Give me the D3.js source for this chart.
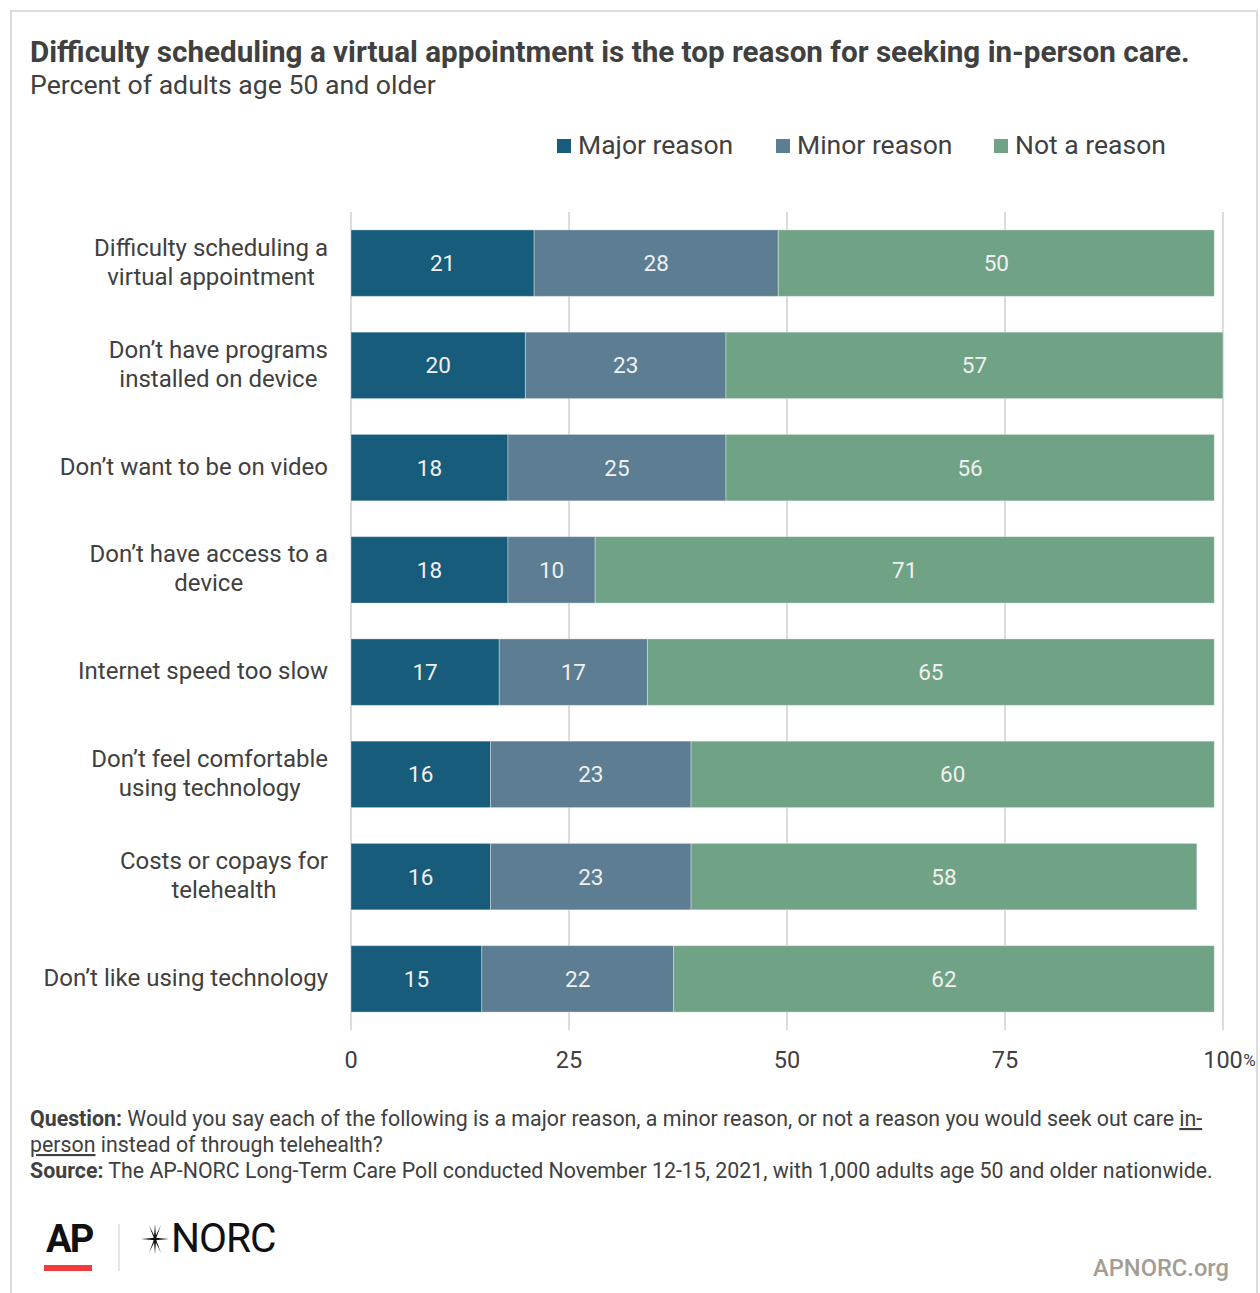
<!DOCTYPE html>
<html><head><meta charset="utf-8">
<script src="https://cdn.jsdelivr.net/npm/d3@7"></script>
<style>
html,body{margin:0;padding:0;background:#fff;}
text{font-family:Roboto,"Noto Sans",sans-serif;}
</style></head>
<body><svg id="c" width="1260" height="1293"></svg>
<script>
const categories = [
  ["Difficulty scheduling a","virtual appointment"],
  ["Don’t have programs","installed on device"],
  ["Don’t want to be on video"],
  ["Don’t have access to a","device"],
  ["Internet speed too slow"],
  ["Don’t feel comfortable","using technology"],
  ["Costs or copays for","telehealth"],
  ["Don’t like using technology"]
];
const seriesNames = ["Major reason","Minor reason","Not a reason"];
const major = [21,20,18,18,17,16,16,15];
const minor = [28,23,25,10,17,23,23,22];
const notReason = [50,57,56,71,65,60,58,62];
const tickValues = [0,25,50,75,100];
const tickLabels = ["0","25","50","75","100"];
const colors = ["#185c7c","#5c7d92","#70a285"];

const svg = d3.select("#c");
svg.append("rect").attr("x",11).attr("y",11).attr("width",1246).attr("height",1290)
  .attr("fill","#fff").attr("stroke","#dcdcdc").attr("stroke-width",2);

function fit(sel, w){ const n=sel.node(); const l=n.getComputedTextLength(); if(l>0){ const fs=parseFloat(sel.attr("font-size")); sel.attr("font-size", fs*w/l);} return sel;}

fit(svg.append("text").attr("x",30).attr("y",62).attr("font-size",27).attr("font-weight","bold")
  .attr("fill","#404040").text("Difficulty scheduling a virtual appointment is the top reason for seeking in-person care."),1160);
fit(svg.append("text").attr("x",30).attr("y",94).attr("font-size",24)
  .attr("fill","#404040").text("Percent of adults age 50 and older"),406);

// legend
const legX=[557,776,994];
seriesNames.forEach((s,i)=>{
  svg.append("rect").attr("x",legX[i]).attr("y",139).attr("width",14).attr("height",14).attr("fill",colors[i]);
  svg.append("text").attr("x",legX[i]+21).attr("y",154).attr("font-size",26.5).attr("fill","#404040").text(s);
});

const x = d3.scaleLinear().domain([0,100]).range([351,1223]);
const y = d3.scaleBand().domain(d3.range(categories.length)).range([212,1030]).paddingInner(0.35).paddingOuter(0.175);

// grid
svg.append("g").selectAll("line").data(tickValues).join("line")
  .attr("x1",d=>x(d)).attr("x2",d=>x(d)).attr("y1",212).attr("y2",1030)
  .attr("stroke","#dcdcdc").attr("stroke-width",2);

const rows = categories.map((c,i)=>({i, vals:[major[i],minor[i],notReason[i]]}));
const g = svg.append("g");
rows.forEach(r=>{
  let cum=0;
  r.vals.forEach((v,k)=>{
    const x0=x(cum), x1=x(cum+v);
    g.append("rect").attr("x",x0).attr("y",y(r.i)).attr("width",x1-x0).attr("height",y.bandwidth())
      .attr("fill",colors[k]).attr("stroke","rgba(255,255,255,0.35)").attr("stroke-width",1);
    g.append("text").attr("x",(x0+x1)/2).attr("y",y(r.i)+y.bandwidth()/2+8).attr("text-anchor","middle")
      .attr("font-size",22.5).attr("fill","#f0f0f0").text(v);
    cum+=v;
  });
  const lines=categories[r.i];
  const cy=y(r.i)+y.bandwidth()/2;
  const tg = svg.append("g");
  const ts = lines.map((ln,j)=>{
    const by = cy + 7 + (j-(lines.length-1)/2)*29;
    return tg.append("text").attr("y",by).attr("text-anchor","middle").attr("font-size",24)
      .attr("fill","#404040").text(ln);
  });
  const maxW = d3.max(ts, t=>t.node().getComputedTextLength());
  ts.forEach(t=>t.attr("x",328-maxW/2));
});

// axis labels
const ax = svg.append("g");
tickValues.forEach((t,i)=>{
  const tx = ax.append("text").attr("x",x(t)).attr("y",1068).attr("text-anchor","middle")
    .attr("font-size",23.5).attr("fill","#404040").text(tickLabels[i]);
  if(t===100){
    const w = tx.node().getComputedTextLength();
    svg.append("text").attr("x",x(t)+w/2+0.5).attr("y",1066).attr("font-size",17).attr("fill","#404040").text("%");
  }
});

// footer
const f1 = svg.append("text").attr("x",30).attr("y",1126).attr("font-size",20).attr("fill","#404040");
f1.append("tspan").attr("font-weight","bold").text("Question:");
f1.append("tspan").text(" Would you say each of the following is a major reason, a minor reason, or not a reason you would seek out care ");
f1.append("tspan").attr("text-decoration","underline").text("in-");
fit(f1,1173);
const fs1 = f1.attr("font-size");
const f2 = svg.append("text").attr("x",30).attr("y",1152).attr("font-size",fs1).attr("fill","#404040");
f2.append("tspan").attr("text-decoration","underline").text("person");
f2.append("tspan").text(" instead of through telehealth?");
const f3 = svg.append("text").attr("x",30).attr("y",1178).attr("font-size",20).attr("fill","#404040");
f3.append("tspan").attr("font-weight","bold").text("Source:");
f3.append("tspan").text(" The AP-NORC Long-Term Care Poll conducted November 12-15, 2021, with 1,000 adults age 50 and older nationwide.");
fit(f3,1183);

// logos
fit(svg.append("text").attr("x",46).attr("y",1252).attr("font-size",36).attr("font-weight","bold")
  .attr("fill","#111").attr("letter-spacing",-2).text("AP"),46);
svg.append("rect").attr("x",44).attr("y",1265).attr("width",48).attr("height",6).attr("fill","#f23b3b");
svg.append("line").attr("x1",119).attr("x2",119).attr("y1",1224).attr("y2",1271).attr("stroke","#ddd").attr("stroke-width",1.5);
// star
const sx=155, sy=1239;
const spikes=[[0,-15,1.2],[0,15,1.2],[-14,0,1.2],[14,0,1.2],[-6,-14,0.8],[6,14,0.8],[6,-14,0.8],[-6,14,0.8]];
spikes.forEach(s=>{
  const [dx,dy,w]=s; const len=Math.hypot(dx,dy); const nx=-dy/len*w, ny=dx/len*w;
  svg.append("path").attr("d",`M${sx+nx},${sy+ny}L${sx+dx},${sy+dy}L${sx-nx},${sy-ny}Z`).attr("fill","#111");
});
fit(svg.append("text").attr("x",171).attr("y",1252).attr("font-size",36)
  .attr("fill","#111").attr("letter-spacing",-1).text("NORC"),104);
fit(svg.append("text").attr("x",1093).attr("y",1276).attr("font-size",22).attr("font-weight",500)
  .attr("fill","#a39d92").text("APNORC.org"),136);
</script></body></html>
